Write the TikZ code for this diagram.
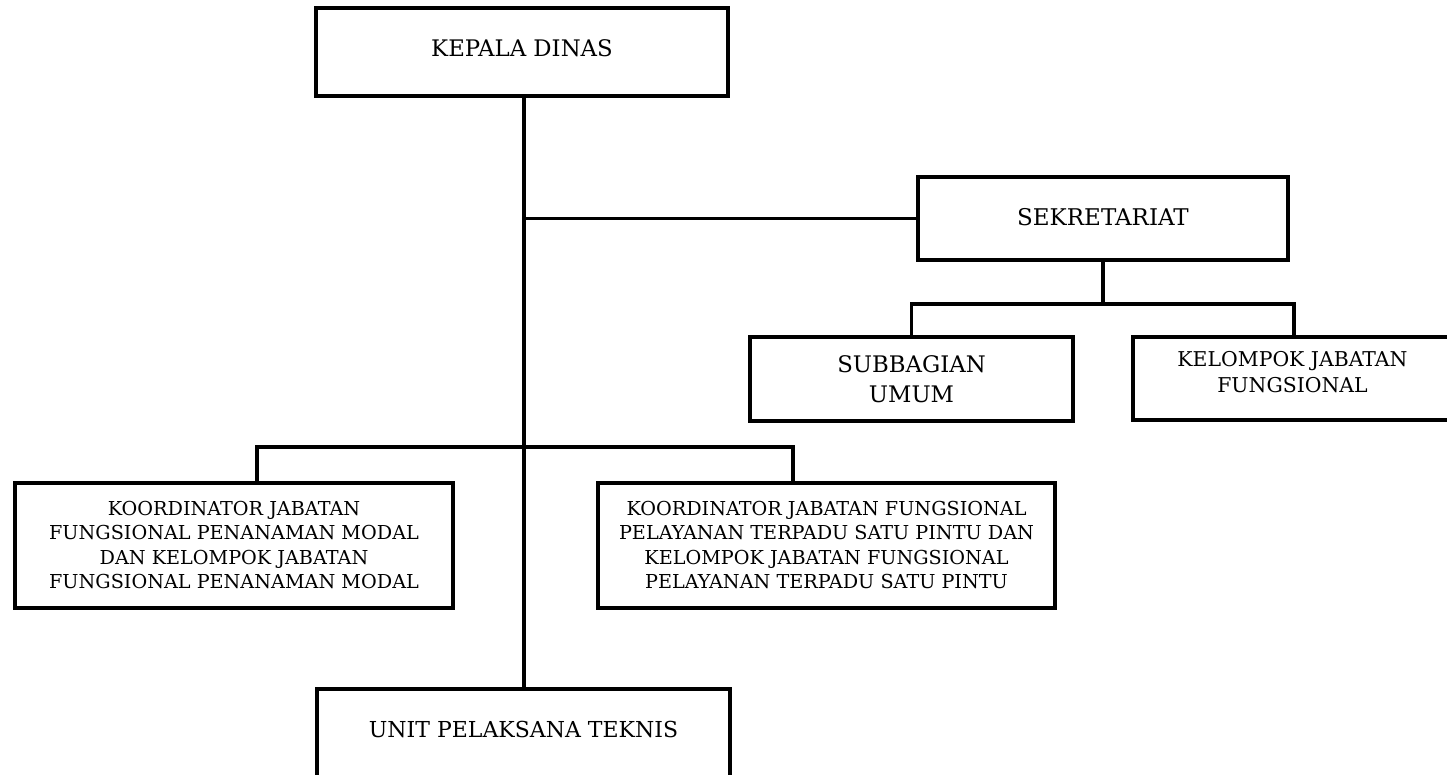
\documentclass[tikz,border=0pt]{standalone}
\usepackage{fontspec}
\setmainfont{DejaVu Serif}
\begin{document}
\begin{tikzpicture}[x=1pt,y=-1pt,
  box/.style={draw,line width=4pt,rectangle,inner sep=0pt,align=center},
  bigtext/.style={font=\fontsize{22.8}{30}\selectfont},
  midtext/.style={font=\fontsize{20.4}{26}\selectfont},
  smalltext/.style={font=\fontsize{19.2}{24.2}\selectfont},
  conn/.style={line width=3.5pt}]
\useasboundingbox (0,0) rectangle (1447,774);
\clip (0,0) rectangle (1447,774);
\node[box,bigtext,minimum width=412pt,minimum height=88pt,text depth=8pt] (kd) at (522,52) {KEPALA DINAS};
\node[box,bigtext,minimum width=370pt,minimum height=83pt,text depth=3pt,font=\fontsize{23}{30}\selectfont] (sek) at (1103,218.5) {SEKRETARIAT};
\node[box,bigtext,minimum width=323pt,minimum height=84pt] (sub) at (911.5,379) {SUBBAGIAN\\UMUM};
\node[box,midtext,minimum width=319pt,minimum height=83pt,text depth=13pt] (kel) at (1292.5,378.5) {KELOMPOK JABATAN\\FUNGSIONAL};
\node[box,smalltext,minimum width=438pt,minimum height=125pt] (kjl) at (234,545) {KOORDINATOR JABATAN\\FUNGSIONAL PENANAMAN MODAL\\DAN KELOMPOK JABATAN\\FUNGSIONAL PENANAMAN MODAL};
\node[box,smalltext,minimum width=457pt,minimum height=125pt] (kjr) at (826.5,545) {KOORDINATOR JABATAN FUNGSIONAL\\PELAYANAN TERPADU SATU PINTU DAN\\KELOMPOK JABATAN FUNGSIONAL\\PELAYANAN TERPADU SATU PINTU};
\node[box,bigtext,font=\fontsize{22}{28}\selectfont,minimum width=413pt,minimum height=91pt,text depth=11pt] (upt) at (523.5,734.5) {UNIT PELAKSANA TEKNIS};
\coordinate (b1) at (1103,304);
\coordinate (b2) at (524,447);
\draw[conn] (kd.south -| b2) -- (upt.north -| b2);
\draw[conn] (sek.west) -- (sek.west -| b2);
\draw[conn] (sek.south) -- (b1);
\draw[conn] (sub.north) |- (b1) -| ([xshift=1.5pt]kel.north);
\draw[conn] ([xshift=23pt]kjl.north) |- (b2) -| ([xshift=-33.5pt]kjr.north);
\end{tikzpicture}
\end{document}
